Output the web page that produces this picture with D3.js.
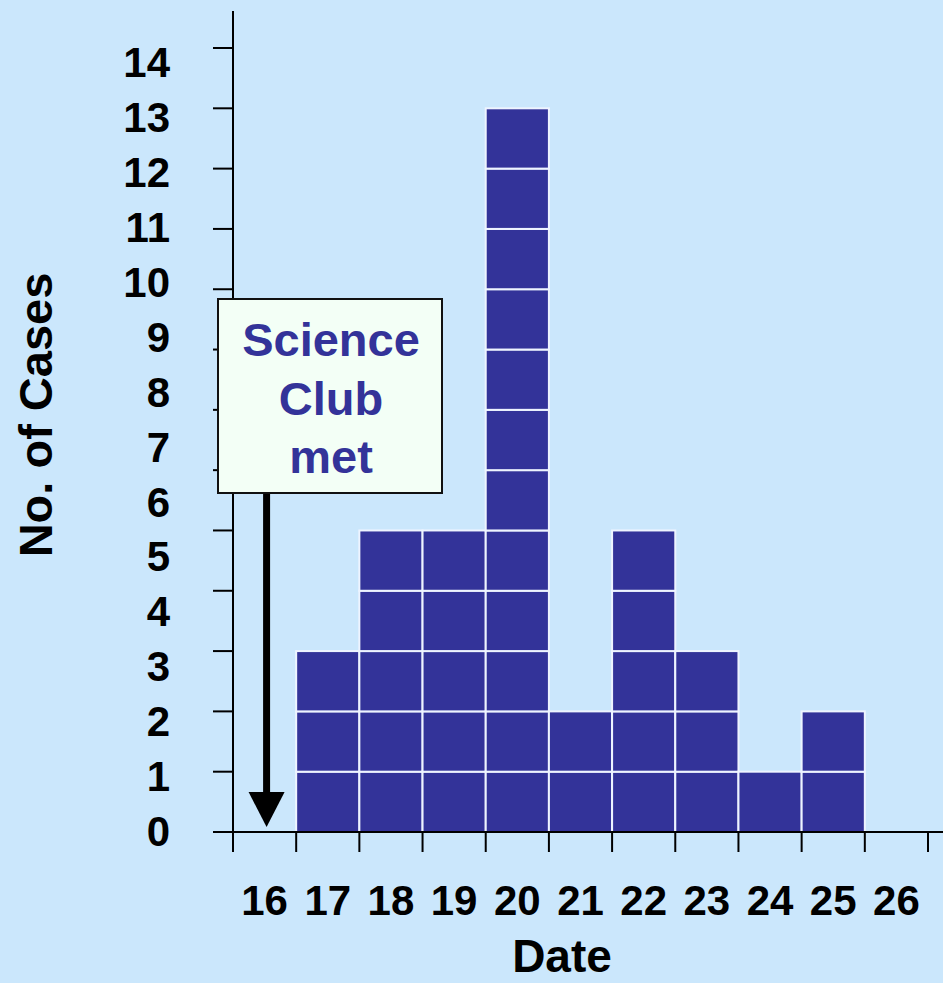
<!DOCTYPE html>
<meta charset="utf-8">
<style type="text/css">
html, body {
  margin: 0;
  padding: 0;
  background: #cbe7fc;
}
svg {
  font-family: "Liberation Sans", Arial, Helvetica, sans-serif;
  font-weight: bold;
  display: block;
}
</style>
<body>
<div id="chart"></div>
<script src="https://d3js.org/d3.v7.min.js"></script>
<script>
// data
var dates = [16, 17, 18, 19, 20, 21, 22, 23, 24, 25, 26];
var cases = [0, 3, 5, 5, 12, 2, 5, 3, 1, 2, 0];
var yTicks = [0, 1, 2, 3, 4, 5, 6, 7, 8, 9, 10, 11, 12, 13];
var yTickLabels = [0, 1, 2, 3, 4, 5, 6, 7, 8, 9, 10, 11, 12, 13, 14];
var noteLines = ['Science', 'Club', 'met'];

var width = 943,
    height = 983;

var barColor = '#333399';

var svg = d3.select('#chart').append('svg')
  .attr('width', width)
  .attr('height', height);

svg.append('rect')
  .attr('width', width)
  .attr('height', height)
  .attr('fill', '#cbe7fc');

var x = d3.scaleBand()
  .domain(dates)
  .range([233, 928])
  .padding(0);

var y = d3.scaleLinear()
  .domain([0, 13])
  .range([832, 48]);

// the labels on the slide are spaced a bit tighter than the tick marks
var yLabel = d3.scaleLinear()
  .domain([0, 14])
  .range([831, 62]);

// one cell per case
var cells = [];
dates.forEach(function(d, i) {
  for (var k = 0; k < cases[i]; k++) {
    cells.push({ date: d, level: k });
  }
});

svg.append('g')
  .selectAll('rect')
    .data(cells)
  .enter()
    .append('rect')
      .attr('x', function(d) { return x(d.date); })
      .attr('y', function(d) { return y(d.level + 1); })
      .attr('width', x.bandwidth())
      .attr('height', function(d) { return y(d.level) - y(d.level + 1); })
      .attr('fill', barColor)
      .attr('stroke', '#eef4ff')
      .attr('stroke-width', 2);

// y axis
var yAxis = svg.append('g');
yAxis.append('line')
  .attr('x1', 233).attr('x2', 233)
  .attr('y1', 11).attr('y2', 852)
  .attr('stroke', '#000')
  .attr('stroke-width', 2);

yAxis.selectAll('.tick')
    .data(yTicks)
  .enter()
    .append('line')
      .attr('class', 'tick')
      .attr('x1', 213).attr('x2', 233)
      .attr('y1', function(d) { return y(d); })
      .attr('y2', function(d) { return y(d); })
      .attr('stroke', '#000')
      .attr('stroke-width', 2);

yAxis.selectAll('text')
    .data(yTickLabels)
  .enter()
    .append('text')
      .attr('x', 170)
      .attr('y', function(d) { return yLabel(d); })
      .attr('dy', '0.36em')
      .attr('text-anchor', 'end')
      .attr('font-size', 42)
      .attr('fill', '#000')
      .text(function(d) { return d; });

// x axis
var xAxis = svg.append('g');
xAxis.append('line')
  .attr('x1', 213).attr('x2', width)
  .attr('y1', y(0)).attr('y2', y(0))
  .attr('stroke', '#000')
  .attr('stroke-width', 2);

var edges = dates.map(function(d) { return x(d); }).concat([x.range()[1]]);
xAxis.selectAll('.tick')
    .data(edges)
  .enter()
    .append('line')
      .attr('class', 'tick')
      .attr('x1', function(d) { return d; })
      .attr('x2', function(d) { return d; })
      .attr('y1', y(0))
      .attr('y2', y(0) + 20)
      .attr('stroke', '#000')
      .attr('stroke-width', 2);

xAxis.selectAll('text')
    .data(dates)
  .enter()
    .append('text')
      .attr('x', function(d) { return x(d) + x.bandwidth() / 2; })
      .attr('y', 915)
      .attr('text-anchor', 'middle')
      .attr('font-size', 42)
      .attr('fill', '#000')
      .text(function(d) { return d; });

// axis titles
svg.append('text')
  .attr('x', 562)
  .attr('y', 972)
  .attr('text-anchor', 'middle')
  .attr('font-size', 46)
  .text('Date');

svg.append('text')
  .attr('transform', 'translate(52,415) rotate(-90)')
  .attr('text-anchor', 'middle')
  .attr('font-size', 47)
  .text('No. of Cases');

// annotation: box + arrow pointing at the 16th
var boxX = 218, boxY = 299, boxW = 224, boxH = 194;
var arrowX = x(16) + x.bandwidth() / 2 + 2;

svg.append('line')
  .attr('x1', arrowX).attr('x2', arrowX)
  .attr('y1', boxY + boxH)
  .attr('y2', 795)
  .attr('stroke', '#000')
  .attr('stroke-width', 7);

svg.append('path')
  .attr('d', 'M' + (arrowX - 18) + ',792 L' + (arrowX + 18) + ',792 L' + arrowX + ',' + (y(0) - 5) + 'Z')
  .attr('fill', '#000');

svg.append('rect')
  .attr('x', boxX).attr('y', boxY)
  .attr('width', boxW).attr('height', boxH)
  .attr('fill', '#f3fff6')
  .attr('stroke', '#111')
  .attr('stroke-width', 2);

svg.append('g')
  .selectAll('text')
    .data(noteLines)
  .enter()
    .append('text')
      .attr('x', boxX + boxW / 2 + 1)
      .attr('y', function(d, i) { return 356 + i * 58.5; })
      .attr('text-anchor', 'middle')
      .attr('font-size', 47)
      .attr('fill', barColor)
      .text(function(d) { return d; });
</script>
</body>
